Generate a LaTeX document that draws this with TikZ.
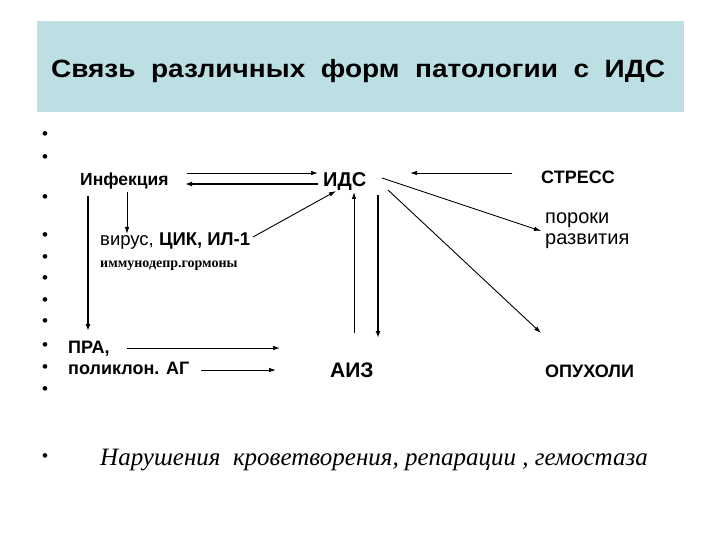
\documentclass[tikz,border=0pt]{standalone}
\usepackage{fontspec}
\setmainfont{Liberation Sans}
\newfontfamily\serifit{Liberation Serif}
\usetikzlibrary{arrows.meta}
\definecolor{titlebg}{HTML}{BCDFE3}
\tikzset{
  lbl/.style={inner sep=0pt, anchor=base west, font=\fontsize{18}{21}\selectfont},
  blbl/.style={lbl, font=\fontsize{18}{21}\selectfont\bfseries},
  bul/.style={inner sep=0pt, font=\fontsize{17}{18}\selectfont},
  thinarr/.style={line width=0.9pt, -{Latex[length=7pt,width=4.5pt]}},
  thickarr/.style={line width=2pt, -{Latex[length=7pt,width=5pt]}}
}
\begin{document}
\begin{tikzpicture}[x=1pt,y=-1pt]
\useasboundingbox (0,0) rectangle (720,540);
\fill[white] (0,0) rectangle (720,540);
\fill[titlebg] (37,21) rectangle (684,112);
\node[inner sep=0pt, anchor=base, xscale=1.12, font=\fontsize{25}{28}\selectfont\bfseries] (title) at (358,78)
  {Связь\ \ различных\ \ форм\ \ патологии\ \ с\ \ ИДС};
% bullets
\foreach \yy [count=\i] in {136,159,199,237,259,280,302,323,347,369,391,458}
  \node[bul] (b\i) at (45,\yy) {\textbullet};
% labels
\node[blbl, font=\fontsize{17.5}{21}\selectfont\bfseries] (inf) at (80,186) {Инфекция};
\node[blbl, font=\fontsize{20}{24}\selectfont\bfseries] (ids) at (323,187) {ИДС};
\node[blbl] (stress) at (541,184) {СТРЕСС};
\node[lbl, font=\fontsize{20}{22}\selectfont] (por1) at (545,224) {пороки};
\node[lbl, font=\fontsize{20}{22}\selectfont] (por2) at (545,244) {развития};
\node[lbl, font=\fontsize{18.5}{21}\selectfont] (vir) at (100,245) {вирус, \textbf{ЦИК, ИЛ-1}};
\node[lbl, font=\fontsize{14}{16}\selectfont\serifit\bfseries] (imm) at (100,267) {иммунодепр.гормоны};
\node[blbl] (pra) at (68,353) {ПРА,};
\node[blbl] (pol) at (68,374) {поликлон. АГ};
\node[blbl, font=\fontsize{21}{24}\selectfont\bfseries] (aiz) at (330,377) {АИЗ};
\node[blbl] (opu) at (545,377) {ОПУХОЛИ};
\node[lbl, font=\fontsize{25}{28}\selectfont\serifit\itshape] (nar) at (100,465)
  {Нарушения\ \ кроветворения,\ репарации\ ,\ гемостаза};
% connector end points
\coordinate (a1s) at (187,173); \coordinate (a1e) at (318,173);
\coordinate (a2s) at (318,184); \coordinate (a2e) at (185,184);
\coordinate (a3s) at (88,196);  \coordinate (a3e) at (88,331);
\coordinate (a4s) at (127,192); \coordinate (a4e) at (127,234);
\coordinate (a5s) at (253,237); \coordinate (a5e) at (336,191);
\coordinate (a6s) at (354,333); \coordinate (a6e) at (354,192);
\coordinate (a7s) at (378,195); \coordinate (a7e) at (378,338);
\coordinate (a8s) at (512,173); \coordinate (a8e) at (410,173);
\coordinate (a9s) at (382,178); \coordinate (a9e) at (541,231);
\coordinate (a10s) at (388,190); \coordinate (a10e) at (541,333);
\coordinate (a11s) at (127,348); \coordinate (a11e) at (280,348);
\coordinate (a12s) at (201,370); \coordinate (a12e) at (276,370);
\draw[thinarr] (a1s) -- (a1e);
\draw[thickarr] (a2s) -- (a2e);
\draw[thickarr] (a3s) -- (a3e);
\draw[thinarr] (a4s) -- (a4e);
\draw[thinarr] (a5s) -- (a5e);
\draw[thinarr] (a6s) -- (a6e);
\draw[thickarr] (a7s) -- (a7e);
\draw[thinarr] (a8s) -- (a8e);
\draw[thinarr] (a9s) -- (a9e);
\draw[thinarr] (a10s) -- (a10e);
\draw[thinarr] (a11s) -- (a11e);
\draw[thinarr] (a12s) -- (a12e);
\end{tikzpicture}
\end{document}
